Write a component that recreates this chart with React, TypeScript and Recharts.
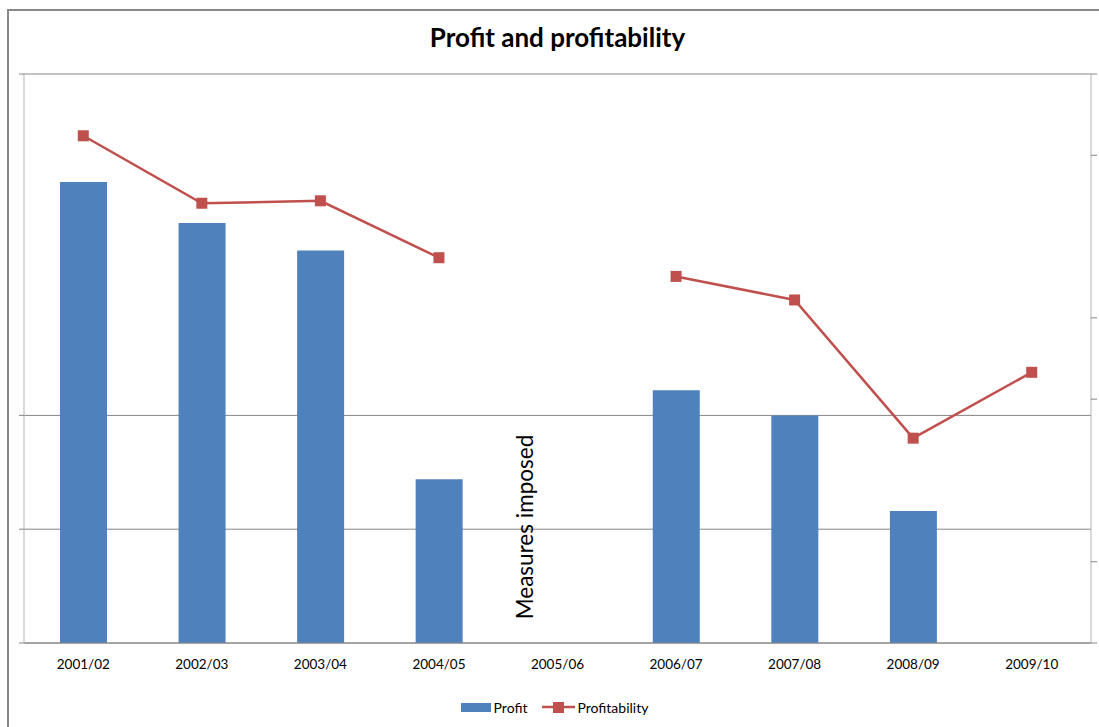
import { ComposedChart, Bar, Line, XAxis, YAxis, CartesianGrid, ReferenceLine, Legend } from 'recharts'

const categories = ['2001/02', '2002/03', '2003/04', '2004/05', '2005/06', '2006/07', '2007/08', '2008/09', '2009/10']
const profit = [4.05, 3.69, 3.45, 1.44, null, 2.22, 2.0, 1.16, null]
const profitability = [6.24, 5.41, 5.44, 4.74, null, 4.51, 4.22, 2.52, 3.33]
const leftTicks = [0, 1, 2, 5]
const rightTicks = [0, 1, 3, 4, 6, 7]
const edgeTicks = [0, 1, 2, 3, 4, 5, 6, 7, 8, 9]

const data = categories.map((year, i) => ({
  year,
  idx: i + 0.5,
  profit: profit[i],
  profitability: profitability[i],
}))

const font = 'Lato, "Open Sans", sans-serif'

function SquareDot(props: any) {
  const { cx, cy, index } = props
  if (cx == null || cy == null || props.value == null) return <g key={`d${index}`} />
  return <rect key={`d${index}`} x={cx - 5.5} y={cy - 5.5} width={11} height={11} fill="#C0504D" />
}

function LegendBox() {
  return (
    <div style={{ height: 20, display: 'flex', justifyContent: 'center', alignItems: 'center', fontSize: 14, fontFamily: font, color: '#000', paddingLeft: 10 }}>
      <span style={{ display: 'inline-block', width: 30, height: 9, background: '#4F81BD', marginRight: 3 }} />
      <span style={{ marginRight: 15 }}>Profit</span>
      <svg width={33} height={12} style={{ marginRight: 2 }}>
        <line x1={0} y1={6} x2={33} y2={6} stroke="#C0504D" strokeWidth={2.5} />
        <rect x={11} y={1} width={11} height={11} fill="#C0504D" />
      </svg>
      <span>Profitability</span>
    </div>
  )
}

function MeasuresLabel(props: any) {
  const vb = props.viewBox
  const x = vb.x - 25
  const y = 527
  return (
    <text x={x} y={y} transform={`rotate(-90 ${x} ${y})`} textAnchor="middle" fontSize={22.5} fontFamily={font} fill="#000">
      Measures imposed
    </text>
  )
}

export default function App() {
  return (
    <div style={{ position: 'absolute', left: 0, top: 0, width: 1099, height: 727, background: '#fff', fontFamily: font }}>
      <div style={{ position: 'absolute', left: 7, top: 9, width: 1092, height: 718, borderLeft: '2px solid #888', borderTop: '2px solid #888', boxSizing: 'border-box' }} />
      <div style={{ position: 'absolute', left: 0, top: 21, width: 1115, textAlign: 'center', fontSize: 26, fontWeight: 700, color: '#000' }}>
        Profit and profitability
      </div>
      <div style={{ position: 'absolute', left: 0, top: 0 }}>
        <ComposedChart width={1099} height={727} data={data} margin={{ top: 74, right: 0, bottom: 10, left: 0 }} barCategoryGap={0}>
          <CartesianGrid yAxisId="left" xAxisId="cat" vertical={false} stroke="#868686" />
          <XAxis xAxisId="edge" dataKey="idx" type="number" domain={[0, 9]} ticks={edgeTicks} height={0} axisLine={false} tickLine={{ stroke: '#868686' }} tickSize={5} tickFormatter={() => ''} />
          <XAxis xAxisId="cat" dataKey="year" height={54} axisLine={{ stroke: '#868686' }} tickLine={false} tickSize={0} tickMargin={16} tick={{ fill: '#000', fontSize: 13.5 }} interval={0} />
          <YAxis yAxisId="left" orientation="left" width={24} domain={[0, 5]} ticks={leftTicks} axisLine={{ stroke: '#B3B3B3' }} tickLine={{ stroke: '#868686' }} tickSize={5} tickFormatter={() => ''} />
          <YAxis yAxisId="right" orientation="right" width={8} domain={[0, 7]} ticks={rightTicks} axisLine={{ stroke: '#B3B3B3' }} tickLine={{ stroke: '#868686' }} tickSize={6} tickFormatter={() => ''} />
          <Bar xAxisId="cat" yAxisId="left" dataKey="profit" name="Profit" fill="#4F81BD" barSize={47} isAnimationActive={false} />
          <Line xAxisId="cat" yAxisId="right" dataKey="profitability" name="Profitability" stroke="#C0504D" strokeWidth={2.5} dot={SquareDot} activeDot={false} isAnimationActive={false} />
          <ReferenceLine xAxisId="cat" yAxisId="left" x="2005/06" stroke="none" label={MeasuresLabel} />
          <Legend verticalAlign="bottom" content={LegendBox} />
        </ComposedChart>
      </div>
    </div>
  )
}
